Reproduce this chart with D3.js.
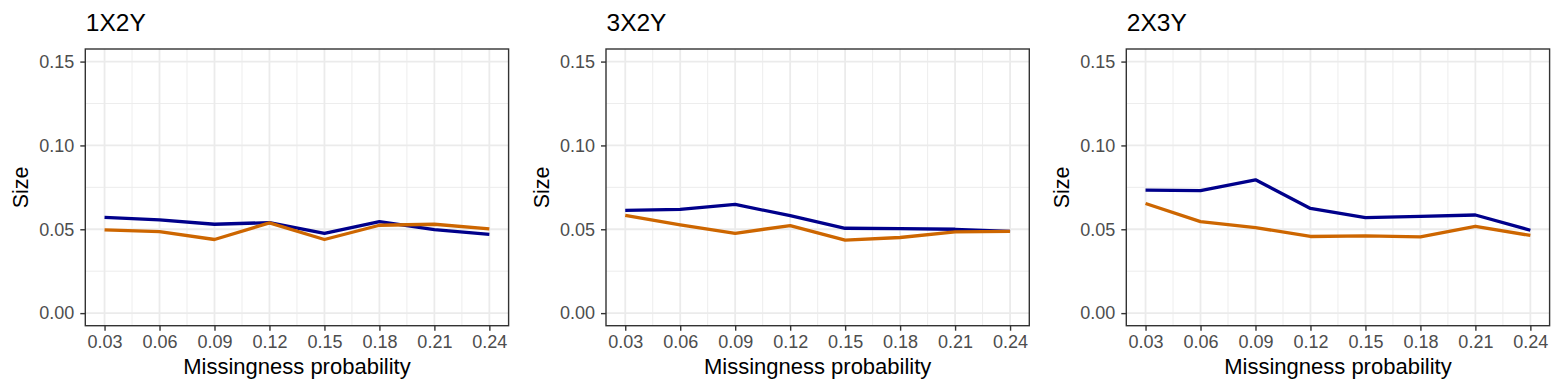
<!DOCTYPE html>
<html>
  <head>
    <meta charset="utf-8">
    <script src="https://d3js.org/d3.v7.min.js"></script>
    <style>
      body { margin: 0; background: white; }
      text { font-family: "Liberation Sans", Arial, Helvetica, sans-serif; }
      .grid-major { stroke: #ebebeb; stroke-width: 1.8px; }
      .grid-minor { stroke: #ebebeb; stroke-width: 0.9px; }
      .axis path { display: none; }
      .axis line { stroke: #333333; stroke-width: 1.4px; }
      .axis text { fill: #4d4d4d; font-size: 18px; }
    </style>
  </head>
  <body>
    <div id="chart"></div>
<script>

var probs = [0.03, 0.06, 0.09, 0.12, 0.15, 0.18, 0.21, 0.24];
var panelTitles = ["1X2Y", "3X2Y", "2X3Y"];
var yTicks = [0.00, 0.05, 0.10, 0.15];
var yMinor = [0.025, 0.075, 0.125];

// blue series, one array per panel
var blue1X2Y = [0.0571, 0.0556, 0.0530, 0.0540, 0.0475, 0.0546, 0.0498, 0.0469];
var blue3X2Y = [0.0613, 0.0619, 0.0648, 0.0581, 0.0506, 0.0504, 0.0500, 0.0488];
var blue2X3Y = [0.0734, 0.0730, 0.0795, 0.0624, 0.0569, 0.0577, 0.0585, 0.0494];

// orange series
var orange1X2Y = [0.0496, 0.0486, 0.0439, 0.0538, 0.0439, 0.0524, 0.0530, 0.0502];
var orange3X2Y = [0.0583, 0.0526, 0.0476, 0.0522, 0.0435, 0.0451, 0.0485, 0.0488];
var orange2X3Y = [0.0654, 0.0546, 0.0510, 0.0457, 0.0461, 0.0455, 0.0518, 0.0463];

var blues = [blue1X2Y, blue3X2Y, blue2X3Y];
var oranges = [orange1X2Y, orange3X2Y, orange2X3Y];
var colors = ["#00008b", "#cd6600"];

var width = 1563, height = 392;
var panelLefts = [85.3, 606, 1126.3];
var panelW = 423.3, panelTop = 49, panelBottom = 325.7;

var svg = d3.select('#chart').append('svg')
  .attr('width', width)
  .attr('height', height)
  .style('background', 'white');

function drawPanel(i) {
  var left = panelLefts[i];
  var g = svg.append('g').attr('transform', 'translate(' + left + ',0)');

  // ggplot default expansion of 5%
  var x = d3.scaleLinear().domain([0.03 - 0.0105, 0.24 + 0.0105]).range([0, panelW]);
  var y = d3.scaleLinear().domain([-0.0075, 0.1575]).range([panelBottom, panelTop]);

  var xMinor = d3.pairs(probs).map(function (p) { return (p[0] + p[1]) / 2; });

  g.selectAll('.ymin').data(yMinor).enter().append('line')
    .attr('class', 'grid-minor')
    .attr('x1', 0).attr('x2', panelW)
    .attr('y1', function (d) { return y(d); })
    .attr('y2', function (d) { return y(d); });
  g.selectAll('.xmin').data(xMinor).enter().append('line')
    .attr('class', 'grid-minor')
    .attr('y1', panelTop).attr('y2', panelBottom)
    .attr('x1', function (d) { return x(d); })
    .attr('x2', function (d) { return x(d); });
  g.selectAll('.ymaj').data(yTicks).enter().append('line')
    .attr('class', 'grid-major')
    .attr('x1', 0).attr('x2', panelW)
    .attr('y1', function (d) { return y(d); })
    .attr('y2', function (d) { return y(d); });
  g.selectAll('.xmaj').data(probs).enter().append('line')
    .attr('class', 'grid-major')
    .attr('y1', panelTop).attr('y2', panelBottom)
    .attr('x1', function (d) { return x(d); })
    .attr('x2', function (d) { return x(d); });

  var line = d3.line()
    .x(function (d, j) { return x(probs[j]); })
    .y(function (d) { return y(d); });

  [blues[i], oranges[i]].forEach(function (s, k) {
    g.append('path')
      .datum(s)
      .attr('d', line)
      .attr('fill', 'none')
      .attr('stroke', colors[k])
      .attr('stroke-width', 3.3)
      .attr('stroke-linejoin', 'round');
  });

  g.append('rect')
    .attr('x', 0).attr('y', panelTop)
    .attr('width', panelW).attr('height', panelBottom - panelTop)
    .attr('fill', 'none')
    .attr('stroke', '#333333')
    .attr('stroke-width', 1.4);

  g.append('g')
    .attr('class', 'axis')
    .attr('transform', 'translate(0,' + panelBottom + ')')
    .call(d3.axisBottom(x).tickValues(probs).tickSize(5).tickPadding(5)
      .tickFormat(d3.format('.2f')));

  g.append('g')
    .attr('class', 'axis')
    .call(d3.axisLeft(y).tickValues(yTicks).tickSize(5).tickPadding(6)
      .tickFormat(d3.format('.2f')));

  g.append('text')
    .attr('x', 0.5).attr('y', 31)
    .style('font-size', '24.5px')
    .text(panelTitles[i]);

  g.append('text')
    .attr('x', panelW / 2).attr('y', 374)
    .attr('text-anchor', 'middle')
    .style('font-size', '22px')
    .text('Missingness probability');

  g.append('text')
    .attr('transform', 'translate(-57,' + (panelTop + panelBottom) / 2 + ') rotate(-90)')
    .attr('text-anchor', 'middle')
    .style('font-size', '21.5px')
    .text('Size');
}

panelTitles.forEach(function (t, i) { drawPanel(i); });

</script>
  </body>
</html>
